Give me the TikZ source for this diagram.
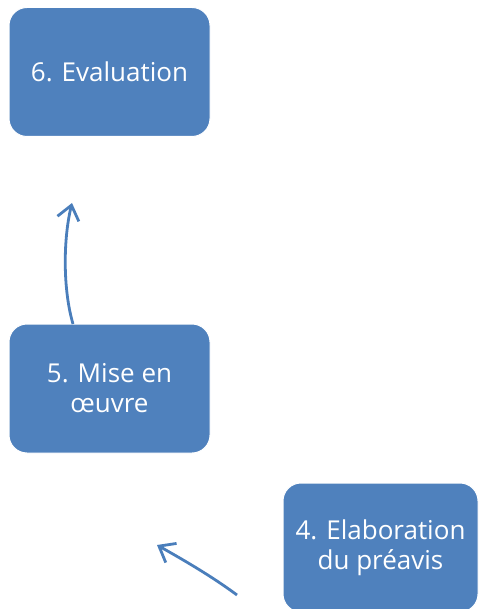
\documentclass[tikz,border=0pt]{standalone}
\usepackage{fontspec}
\setmainfont{Open Sans}
\usetikzlibrary{arrows.meta}
\definecolor{boxblue}{HTML}{4F81BD}
\definecolor{arrblue}{HTML}{4A7EBB}
\tikzset{
  stepbox/.style={draw=white, line width=1pt, fill=boxblue, rounded corners=18pt,
    minimum width=201pt, minimum height=129pt, inner sep=0pt,
    text=white, align=center, font=\fontsize{26}{30}\selectfont},
  flowarrow/.style={draw=arrblue, line width=2.8pt,
    -{Straight Barb[length=14pt,width=22pt,line width=2.8pt]}}
}
\begin{document}
\begin{tikzpicture}[x=1pt,y=-1pt]
\useasboundingbox (0,0) rectangle (479,609);
\node[stepbox] (b6) at (109.5,72) {6. Evaluation};
\node[stepbox] (b5) at (109.5,388.5) {5. Mise en\\œuvre};
\node[stepbox, minimum width=195pt] (b4) at (380.5,547.5) {4. Elaboration\\du préavis};
\coordinate (a1s) at (73,324);
\coordinate (a1e) at (72,203);
\coordinate (a2s) at (237,595);
\coordinate (a2e) at (157,545);
\draw[flowarrow] (a1s) .. controls (63,290) and (63,240) .. (a1e);
\draw[flowarrow] (a2s) .. controls (210,575) and (180,558) .. (a2e);
\end{tikzpicture}
\end{document}
